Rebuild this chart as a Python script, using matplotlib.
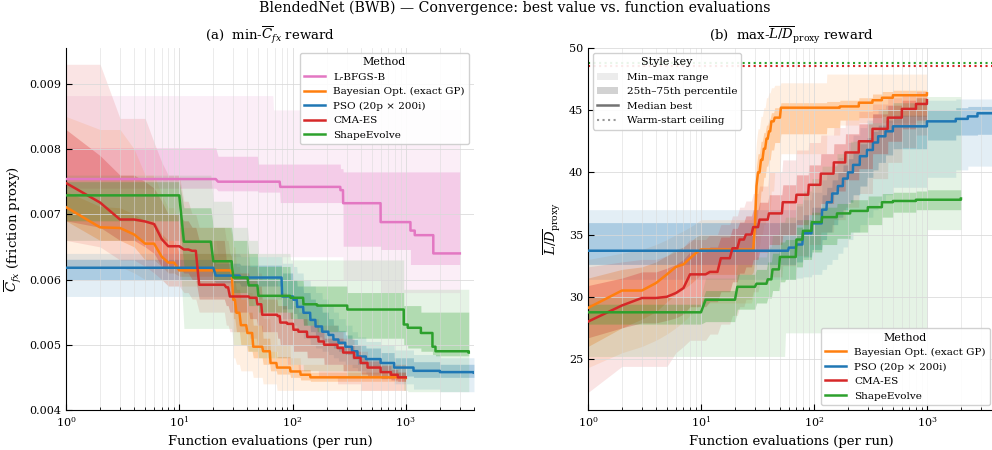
import matplotlib
matplotlib.use("Agg")
import matplotlib.pyplot as plt
from matplotlib.lines import Line2D
from matplotlib.patches import Patch

plt.rcParams['font.family'] = ['DejaVu Serif']
plt.rcParams['mathtext.fontset'] = 'dejavuserif'

# ---------------- data: min-Cfx panel (knots: evaluation where value changes) ----------------
cf_lb_ev = [1, 22, 50, 68, 78, 265, 280, 600, 1100, 1200, 1750, 3000]
cf_lb_med = [0.00754, 0.00750, 0.00750, 0.00750, 0.00742, 0.00737, 0.00717, 0.00688, 0.00675, 0.00668, 0.00640, 0.00640]
cf_lb_iqr_hi = [0.00802, 0.00789, 0.00777, 0.00777, 0.00777, 0.00770, 0.00765, 0.00765, 0.00765, 0.00765, 0.00765, 0.00765]
cf_lb_iqr_lo = [0.00740, 0.00736, 0.00734, 0.00734, 0.00718, 0.00718, 0.00651, 0.00646, 0.00623, 0.00623, 0.00623, 0.00623]
cf_lb_rng_hi = [0.00882, 0.00882, 0.00882, 0.00860, 0.00860, 0.00860, 0.00860, 0.00860, 0.00860, 0.00860, 0.00860, 0.00860]
cf_lb_rng_lo = [0.00660, 0.00635, 0.00635, 0.00635, 0.00635, 0.00635, 0.00600, 0.00580, 0.00580, 0.00580, 0.00580, 0.00580]

cf_bo_ev = [1, 2, 3, 4, 5, 7, 8, 10, 29, 30, 32, 35, 40, 45, 55, 64, 73, 96, 118, 144, 1000]
cf_bo_med = [0.00711, 0.00680, 0.00679, 0.00669, 0.00655, 0.00635, 0.00626, 0.00614, 0.00612, 0.00569, 0.00549,
             0.00530, 0.00518, 0.00497, 0.00490, 0.00472, 0.00465, 0.00459, 0.00454, 0.00450, 0.00449]
cf_bo_iqr_hi = [0.00735, 0.00712, 0.00710, 0.00700, 0.00690, 0.00670, 0.00660, 0.00640, 0.00635, 0.00600, 0.00585,
                0.00570, 0.00550, 0.00530, 0.00510, 0.00490, 0.00482, 0.00470, 0.00462, 0.00458, 0.00456]
cf_bo_iqr_lo = [0.00690, 0.00660, 0.00660, 0.00650, 0.00630, 0.00620, 0.00610, 0.00605, 0.00600, 0.00540, 0.00520,
                0.00500, 0.00490, 0.00480, 0.00470, 0.00460, 0.00455, 0.00450, 0.00446, 0.00444, 0.00443]
cf_bo_rng_hi = [0.00850, 0.00830, 0.00830, 0.00800, 0.00760, 0.00730, 0.00710, 0.00680, 0.00670, 0.00650, 0.00620,
                0.00600, 0.00580, 0.00560, 0.00540, 0.00520, 0.00500, 0.00480, 0.00470, 0.00470, 0.00465]
cf_bo_rng_lo = [0.00620, 0.00620, 0.00620, 0.00610, 0.00600, 0.00600, 0.00590, 0.00590, 0.00590, 0.00480, 0.00470,
                0.00460, 0.00460, 0.00450, 0.00440, 0.00440, 0.00430, 0.00430, 0.00430, 0.00430, 0.00430]

cf_pso_ev = [1, 21, 35, 81, 102, 110, 125, 144, 160, 183, 208, 230, 255, 293, 336, 375, 445, 600, 790, 1170, 2000, 4000]
cf_pso_med = [0.00618, 0.00606, 0.00603, 0.00574, 0.00569, 0.00558, 0.00549, 0.00538, 0.00528, 0.00520, 0.00515,
              0.00508, 0.00503, 0.00497, 0.00490, 0.00482, 0.00478, 0.00472, 0.00465, 0.00460, 0.00458, 0.00457]
cf_pso_iqr_hi = [0.00631, 0.00625, 0.00622, 0.00610, 0.00600, 0.00590, 0.00580, 0.00570, 0.00560, 0.00550, 0.00540,
                 0.00530, 0.00522, 0.00515, 0.00508, 0.00500, 0.00495, 0.00488, 0.00480, 0.00474, 0.00470, 0.00468]
cf_pso_iqr_lo = [0.00600, 0.00595, 0.00590, 0.00555, 0.00548, 0.00540, 0.00530, 0.00520, 0.00512, 0.00505, 0.00500,
                 0.00495, 0.00490, 0.00485, 0.00478, 0.00470, 0.00465, 0.00458, 0.00452, 0.00450, 0.00450, 0.00450]
cf_pso_rng_hi = [0.00640, 0.00640, 0.00635, 0.00625, 0.00620, 0.00610, 0.00600, 0.00590, 0.00580, 0.00570, 0.00560,
                 0.00550, 0.00540, 0.00530, 0.00520, 0.00512, 0.00505, 0.00500, 0.00492, 0.00485, 0.00480, 0.00478]
cf_pso_rng_lo = [0.00574, 0.00574, 0.00570, 0.00540, 0.00530, 0.00520, 0.00510, 0.00500, 0.00495, 0.00490, 0.00485,
                 0.00480, 0.00475, 0.00470, 0.00465, 0.00460, 0.00455, 0.00448, 0.00440, 0.00432, 0.00428, 0.00426]

cf_cma_ev = [1, 2, 3, 5, 6, 7, 8, 11, 13, 15, 26, 28, 42, 49, 54, 74, 78, 90, 102, 113, 135, 170, 190, 250, 280,
             350, 400, 460, 600, 740, 850, 1000]
cf_cma_med = [0.00748, 0.00718, 0.00692, 0.00689, 0.00685, 0.00662, 0.00651, 0.00646, 0.00644, 0.00592, 0.00588,
              0.00574, 0.00572, 0.00562, 0.00546, 0.00544, 0.00534, 0.00532, 0.00523, 0.00520, 0.00512, 0.00505,
              0.00500, 0.00495, 0.00488, 0.00480, 0.00472, 0.00465, 0.00458, 0.00454, 0.00450, 0.00450]
cf_cma_iqr_hi = [0.00830, 0.00790, 0.00760, 0.00750, 0.00740, 0.00720, 0.00700, 0.00690, 0.00680, 0.00660, 0.00630,
                 0.00610, 0.00600, 0.00590, 0.00570, 0.00560, 0.00560, 0.00550, 0.00540, 0.00540, 0.00530, 0.00520,
                 0.00510, 0.00510, 0.00500, 0.00490, 0.00480, 0.00475, 0.00468, 0.00462, 0.00458, 0.00458]
cf_cma_iqr_lo = [0.00690, 0.00680, 0.00660, 0.00650, 0.00640, 0.00620, 0.00620, 0.00610, 0.00600, 0.00570, 0.00560,
                 0.00550, 0.00540, 0.00530, 0.00520, 0.00510, 0.00500, 0.00500, 0.00490, 0.00490, 0.00480, 0.00480,
                 0.00470, 0.00470, 0.00460, 0.00460, 0.00455, 0.00452, 0.00448, 0.00446, 0.00444, 0.00444]
cf_cma_rng_hi = [0.00930, 0.00930, 0.00847, 0.00847, 0.00810, 0.00780, 0.00760, 0.00720, 0.00700, 0.00680, 0.00660,
                 0.00640, 0.00620, 0.00610, 0.00600, 0.00590, 0.00580, 0.00570, 0.00560, 0.00550, 0.00540, 0.00530,
                 0.00530, 0.00520, 0.00510, 0.00500, 0.00490, 0.00480, 0.00470, 0.00470, 0.00470, 0.00470]
cf_cma_rng_lo = [0.00660, 0.00650, 0.00630, 0.00620, 0.00610, 0.00600, 0.00590, 0.00580, 0.00570, 0.00550, 0.00530,
                 0.00520, 0.00510, 0.00500, 0.00490, 0.00480, 0.00480, 0.00470, 0.00470, 0.00460, 0.00460, 0.00450,
                 0.00450, 0.00440, 0.00440, 0.00440, 0.00430, 0.00430, 0.00430, 0.00430, 0.00430, 0.00430]

cf_se_ev = [1, 11, 20, 30, 41, 50, 96, 125, 165, 305, 960, 1040, 1360, 1720, 1830, 3600]
cf_se_med = [0.00729, 0.00658, 0.00628, 0.00603, 0.00591, 0.00575, 0.00572, 0.00562, 0.00560, 0.00554, 0.00531,
             0.00526, 0.00518, 0.00497, 0.00490, 0.00488]
cf_se_iqr_hi = [0.00750, 0.00710, 0.00680, 0.00660, 0.00640, 0.00620, 0.00600, 0.00590, 0.00590, 0.00580, 0.00560,
                0.00560, 0.00550, 0.00550, 0.00550, 0.00550]
cf_se_iqr_lo = [0.00690, 0.00620, 0.00600, 0.00580, 0.00560, 0.00550, 0.00540, 0.00530, 0.00520, 0.00510, 0.00500,
                0.00495, 0.00490, 0.00485, 0.00483, 0.00482]
cf_se_rng_hi = [0.00760, 0.00760, 0.00720, 0.00680, 0.00660, 0.00640, 0.00630, 0.00630, 0.00630, 0.00630, 0.00585,
                0.00585, 0.00585, 0.00585, 0.00585, 0.00585]
cf_se_rng_lo = [0.00660, 0.00525, 0.00525, 0.00500, 0.00490, 0.00480, 0.00470, 0.00460, 0.00460, 0.00450, 0.00430,
                0.00428, 0.00428, 0.00428, 0.00428, 0.00428]

# ---------------- data: max-L/D panel ----------------
ld_bo_ev = [1, 2, 3, 4, 5, 6, 7, 8, 9, 10, 29, 30, 31, 32, 34, 36, 38, 40, 42, 45, 51, 130, 170, 250, 330, 400, 500, 1000]
ld_bo_med = [29.1, 30.5, 30.5, 31.1, 31.8, 32.4, 32.6, 33.1, 33.5, 33.8, 33.8, 35.6, 38.9, 40.0, 41.0, 41.9, 42.7,
             43.3, 44.1, 44.4, 45.2, 45.2, 45.3, 45.6, 45.8, 46.0, 46.2, 46.35]
ld_bo_iqr_hi = [31.5, 32.2, 32.4, 32.8, 33.3, 33.8, 34.0, 34.4, 34.8, 35.0, 35.2, 38.0, 40.5, 41.5, 42.5, 43.2, 43.8,
                44.3, 44.8, 45.2, 45.6, 45.7, 45.8, 46.0, 46.3, 46.5, 46.6, 46.7]
ld_bo_iqr_lo = [26.0, 27.5, 28.2, 28.8, 29.6, 30.2, 30.6, 31.0, 31.4, 31.8, 32.0, 33.0, 35.5, 37.0, 38.5, 39.6, 40.5,
                41.0, 41.8, 42.4, 43.1, 43.6, 44.2, 44.4, 44.4, 44.5, 44.5, 44.5]
ld_bo_rng_hi = [33.0, 33.5, 33.8, 34.2, 34.6, 35.0, 35.3, 35.6, 35.9, 36.2, 36.5, 40.5, 42.5, 43.5, 44.5, 45.2, 46.0,
                46.4, 46.8, 47.0, 47.2, 47.9, 47.9, 47.9, 47.9, 47.9, 47.9, 47.9]
ld_bo_rng_lo = [24.3, 25.5, 26.0, 26.5, 27.0, 27.5, 28.0, 28.5, 29.0, 29.5, 30.0, 31.0, 32.5, 34.0, 35.0, 35.8, 36.5,
                37.0, 38.5, 40.0, 41.5, 43.0, 43.8, 44.0, 44.0, 44.0, 44.0, 44.0]

ld_pso_ev = [1, 60, 70, 80, 96, 118, 130, 145, 163, 181, 200, 222, 255, 295, 333, 370, 430, 500, 1000, 1800, 2300,
             2800, 4000]
ld_pso_med = [33.7, 33.95, 34.2, 35.1, 35.9, 37.0, 37.6, 38.3, 38.9, 39.5, 40.0, 40.6, 41.3, 41.8, 42.4, 42.9, 43.3,
              43.7, 44.1, 44.3, 44.5, 44.75, 44.8]
ld_pso_iqr_hi = [35.96, 35.96, 36.2, 36.6, 37.2, 38.2, 38.8, 39.4, 40.0, 40.6, 41.1, 41.7, 42.3, 42.8, 43.3, 43.8,
                 44.2, 44.6, 45.0, 45.2, 45.3, 45.3, 45.3]
ld_pso_iqr_lo = [32.6, 32.6, 32.8, 33.2, 33.8, 34.6, 35.2, 35.8, 36.4, 37.0, 37.6, 38.2, 38.9, 39.6, 40.2, 40.8, 41.4,
                 41.9, 42.6, 43.0, 43.0, 43.06, 43.06]
ld_pso_rng_hi = [37.0, 37.0, 37.3, 37.8, 38.4, 39.4, 40.0, 40.6, 41.2, 41.8, 42.4, 43.0, 43.6, 44.2, 44.7, 45.1, 45.4,
                 45.6, 45.8, 45.9, 45.9, 45.9, 45.9]
ld_pso_rng_lo = [31.4, 31.4, 31.5, 31.6, 31.8, 32.2, 32.6, 33.0, 33.5, 34.0, 34.6, 35.2, 35.8, 36.4, 37.0, 37.6, 38.2,
                 38.8, 39.6, 40.2, 40.5, 40.5, 40.5]

ld_cma_ev = [1, 2, 3, 5, 6, 7, 8, 12, 15, 19, 22, 25, 29, 33, 40, 53, 70, 90, 115, 150, 190, 250, 330, 450, 600, 800, 1000]
ld_cma_med = [28.0, 29.3, 29.9, 30.0, 30.3, 30.7, 31.8, 32.0, 33.1, 33.9, 34.6, 35.0, 35.6, 36.2, 36.7, 37.6, 38.2,
              39.0, 39.9, 40.8, 41.6, 42.5, 43.5, 44.4, 45.1, 45.5, 45.8]
ld_cma_iqr_hi = [30.9, 31.5, 32.0, 32.3, 32.6, 33.0, 33.6, 34.0, 34.8, 35.5, 36.0, 36.5, 37.0, 37.6, 38.2, 39.0, 39.8,
                 40.6, 41.5, 42.3, 43.1, 43.9, 44.7, 45.4, 45.8, 46.0, 46.2]
ld_cma_iqr_lo = [26.7, 27.5, 27.9, 28.1, 28.3, 28.6, 29.2, 29.6, 30.4, 31.2, 31.9, 32.4, 33.0, 33.6, 34.2, 35.0, 35.8,
                 36.6, 37.5, 38.5, 39.4, 40.3, 41.5, 42.5, 43.5, 44.2, 44.6]
ld_cma_rng_hi = [32.4, 32.8, 33.0, 33.3, 33.6, 34.0, 34.6, 35.0, 35.8, 36.5, 37.2, 37.7, 38.3, 38.9, 40.0, 41.0, 41.8,
                 42.4, 43.0, 43.6, 44.2, 44.9, 45.5, 46.0, 46.3, 46.5, 46.6]
ld_cma_rng_lo = [22.3, 24.4, 24.4, 24.4, 25.5, 26.0, 26.5, 27.0, 27.8, 28.5, 29.2, 29.8, 30.4, 31.0, 31.6, 32.5, 33.3,
                 34.2, 35.2, 36.2, 37.2, 38.3, 39.5, 40.8, 42.0, 43.0, 43.6]

ld_se_ev = [1, 11, 21, 31, 39, 43, 50, 56, 70, 80, 96, 118, 160, 210, 300, 400, 500, 800, 1000, 2000]
ld_se_med = [28.75, 29.76, 30.8, 31.05, 31.4, 32.2, 33.2, 33.2, 34.6, 35.3, 36.0, 36.4, 36.7, 36.9, 37.2, 37.6, 37.7,
             37.8, 37.8, 37.9]
ld_se_iqr_hi = [29.4, 30.5, 31.8, 32.2, 32.8, 33.5, 34.4, 34.6, 35.6, 36.2, 36.8, 37.2, 37.5, 37.8, 38.1, 38.3, 38.4,
                38.5, 38.6, 38.6]
ld_se_iqr_lo = [27.8, 28.0, 29.0, 29.5, 29.9, 30.5, 31.2, 31.4, 32.4, 33.0, 33.6, 34.2, 34.7, 35.2, 35.8, 36.4, 36.8,
                37.0, 37.0, 37.1]
ld_se_rng_hi = [30.0, 31.5, 32.6, 33.2, 34.0, 35.0, 36.0, 36.4, 37.5, 38.5, 39.5, 40.5, 41.5, 42.5, 44.0, 45.0, 45.6,
                46.0, 46.1, 46.1]
ld_se_rng_lo = [25.2, 25.2, 25.2, 25.2, 25.2, 25.2, 25.2, 27.1, 27.1, 27.1, 27.1, 27.1, 27.1, 27.1, 27.1, 27.1, 27.1,
                27.1, 35.4, 35.4]

# warm-start ceilings (right panel)
ceiling_se = 48.8
ceiling_cma = 48.55

colors = {'L-BFGS-B': '#e377c2', 'Bayesian Opt. (exact GP)': '#ff7f0e', 'PSO (20p × 200i)': '#1f77b4',
          'CMA-ES': '#d62728', 'ShapeEvolve': '#2ca02c'}


def expand(ev, vals):
    # value holds until the evaluation before the next change
    xs, ys = [], []
    for i in range(len(ev)):
        xs.append(ev[i])
        ys.append(vals[i])
        if i + 1 < len(ev) and ev[i + 1] - 1 > ev[i]:
            xs.append(ev[i + 1] - 1)
            ys.append(vals[i])
    return xs, ys


def draw(ax, name, ev, med, iqr_lo, iqr_hi, rng_lo, rng_hi):
    c = colors[name]
    x, lo = expand(ev, rng_lo)
    _, hi = expand(ev, rng_hi)
    ax.fill_between(x, lo, hi, color=c, alpha=0.12, lw=0, zorder=1)
    _, lo = expand(ev, iqr_lo)
    _, hi = expand(ev, iqr_hi)
    ax.fill_between(x, lo, hi, color=c, alpha=0.28, lw=0, zorder=1)
    _, m = expand(ev, med)
    ax.plot(x, m, color=c, lw=1.8, zorder=3, label=name)


fig = plt.figure(figsize=(9.92, 4.5), dpi=100)
ax1 = fig.add_axes([0.0665, 0.089, 0.4113, 0.8044])
ax2 = fig.add_axes([0.5927, 0.089, 0.4103, 0.8044])

draw(ax1, 'L-BFGS-B', cf_lb_ev, cf_lb_med, cf_lb_iqr_lo, cf_lb_iqr_hi, cf_lb_rng_lo, cf_lb_rng_hi)
draw(ax1, 'Bayesian Opt. (exact GP)', cf_bo_ev, cf_bo_med, cf_bo_iqr_lo, cf_bo_iqr_hi, cf_bo_rng_lo, cf_bo_rng_hi)
draw(ax1, 'PSO (20p × 200i)', cf_pso_ev, cf_pso_med, cf_pso_iqr_lo, cf_pso_iqr_hi, cf_pso_rng_lo, cf_pso_rng_hi)
draw(ax1, 'CMA-ES', cf_cma_ev, cf_cma_med, cf_cma_iqr_lo, cf_cma_iqr_hi, cf_cma_rng_lo, cf_cma_rng_hi)
draw(ax1, 'ShapeEvolve', cf_se_ev, cf_se_med, cf_se_iqr_lo, cf_se_iqr_hi, cf_se_rng_lo, cf_se_rng_hi)

draw(ax2, 'Bayesian Opt. (exact GP)', ld_bo_ev, ld_bo_med, ld_bo_iqr_lo, ld_bo_iqr_hi, ld_bo_rng_lo, ld_bo_rng_hi)
draw(ax2, 'PSO (20p × 200i)', ld_pso_ev, ld_pso_med, ld_pso_iqr_lo, ld_pso_iqr_hi, ld_pso_rng_lo, ld_pso_rng_hi)
draw(ax2, 'CMA-ES', ld_cma_ev, ld_cma_med, ld_cma_iqr_lo, ld_cma_iqr_hi, ld_cma_rng_lo, ld_cma_rng_hi)
draw(ax2, 'ShapeEvolve', ld_se_ev, ld_se_med, ld_se_iqr_lo, ld_se_iqr_hi, ld_se_rng_lo, ld_se_rng_hi)
ax2.axhline(ceiling_se, color=colors['ShapeEvolve'], ls=':', lw=1.5, zorder=2)
ax2.axhline(ceiling_cma, color=colors['CMA-ES'], ls=':', lw=1.5, zorder=2)

for ax in (ax1, ax2):
    ax.set_xscale('log')
    ax.set_xlim(1, 4000)
    ax.grid(True, which='major', color='0.85', lw=0.7, alpha=0.8)
    ax.grid(True, which='minor', axis='x', color='0.85', lw=0.6, alpha=0.6)
    ax.spines['top'].set_visible(False)
    ax.spines['right'].set_visible(False)
    ax.tick_params(which='both', direction='in', labelsize=8)
    ax.tick_params(which='major', length=4)
    ax.tick_params(which='minor', length=2)
    ax.set_xlabel('Function evaluations (per run)', fontsize=9.5)

ax1.set_ylim(0.004, 0.00955)
ax1.set_ylabel(r'$\overline{C}_{fx}$ (friction proxy)', fontsize=9.5)
ax1.set_title(r'(a)  min-$\overline{C}_{fx}$ reward', fontsize=9.5, pad=6)
ax2.set_ylim(20.9, 50)
ax2.set_ylabel(r'$\overline{L/D}_{\mathrm{proxy}}$', fontsize=9.5)
ax2.set_title(r'(b)  max-$\overline{L/D}_{\mathrm{proxy}}$ reward', fontsize=9.5, pad=6)

leg_kw = dict(fontsize=7.5, title_fontsize=8, framealpha=0.9, edgecolor='0.8', fancybox=True)
ax1.legend(loc='upper right', title='Method', **leg_kw)

style_handles = [Patch(facecolor='0.5', alpha=0.15, lw=0, label='Min–max range'),
                 Patch(facecolor='0.5', alpha=0.35, lw=0, label='25th–75th percentile'),
                 Line2D([0], [0], color='0.45', lw=1.8, label='Median best'),
                 Line2D([0], [0], color='0.6', lw=1.5, ls=':', label='Warm-start ceiling')]
style_leg = ax2.legend(handles=style_handles, loc='upper left', title='Style key', **leg_kw)
ax2.add_artist(style_leg)
ax2.legend(loc='lower right', title='Method', **leg_kw)

fig.text(0.519, 0.982, 'BlendedNet (BWB) — Convergence: best value vs. function evaluations',
         ha='center', va='center', fontsize=10.2)

fig.savefig('out.png', dpi=100)
